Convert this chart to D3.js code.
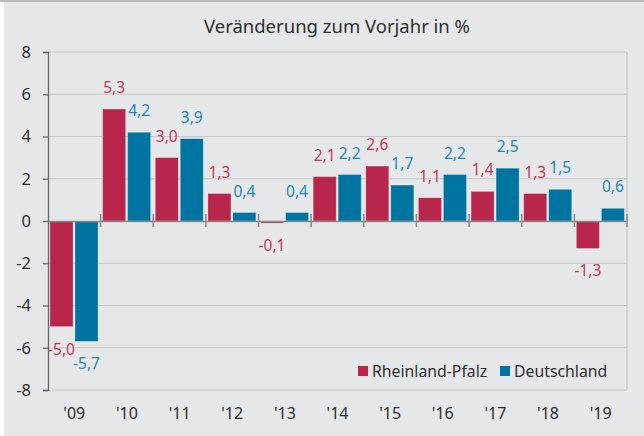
<!DOCTYPE html>
<html>
<head>
<meta charset="utf-8">
<script src="https://cdn.jsdelivr.net/npm/d3@7"></script>
<style>
  body { margin: 0; background: #fff; }
  svg { display: block; font-family: "Noto Sans", sans-serif; }
</style>
</head>
<body>
<svg id="chart" width="644" height="436"></svg>
<script>
// data
const years = ["'09", "'10", "'11", "'12", "'13", "'14", "'15", "'16", "'17", "'18", "'19"];
const seriesNames = ["Rheinland-Pfalz", "Deutschland"];
const rheinlandPfalz = [-5.0, 5.3, 3.0, 1.3, -0.1, 2.1, 2.6, 1.1, 1.4, 1.3, -1.3];
const deutschland = [-5.7, 4.2, 3.9, 0.4, 0.4, 2.2, 1.7, 2.2, 2.5, 1.5, 0.6];
const yTicks = [-8, -6, -4, -2, 0, 2, 4, 6, 8];

const barColors = ["#b8264b", "#0074a0"];
const labelColors = ["#c4375a", "#1f87b3"];

const svg = d3.select("#chart");
const plotLeft = 48, plotRight = 627, plotTop = 52, plotBottom = 390;

// background panel
svg.append("rect").attr("x", 4).attr("y", 0).attr("width", 640).attr("height", 436).attr("fill", "#e6e7e9");
svg.append("rect").attr("x", 0).attr("y", 0).attr("width", 644).attr("height", 2).attr("fill", "#b9b9bb");

const x = d3.scaleBand().domain(years).range([plotLeft, plotRight]).padding(0);
const x1 = d3.scaleBand().domain([0, 1]).range([2, 50]).paddingInner(0.08);
const y = d3.scaleLinear().domain([-8, 8]).range([plotBottom, plotTop]);

// title
svg.append("text")
  .attr("x", 337).attr("y", 33)
  .attr("text-anchor", "middle")
  .attr("font-size", 18.5)
  .attr("fill", "#2e2e2e")
  .text("Veränderung zum Vorjahr in %");

// grid lines
svg.append("g").selectAll("line")
  .data(yTicks.filter(d => d !== 0))
  .enter().append("line")
  .attr("x1", plotLeft).attr("x2", plotRight)
  .attr("y1", d => y(d)).attr("y2", d => y(d))
  .attr("stroke", "#c6c7c9").attr("stroke-width", 1.2);

// right border
svg.append("line")
  .attr("x1", plotRight).attr("x2", plotRight).attr("y1", plotTop).attr("y2", plotBottom)
  .attr("stroke", "#c6c7c9").attr("stroke-width", 1.2);

// y axis
const yAxis = svg.append("g")
  .attr("transform", `translate(${plotLeft},0)`)
  .call(d3.axisLeft(y).tickValues(yTicks).tickSize(5).tickPadding(12).tickFormat(d => d));
yAxis.select(".domain").attr("stroke", "#666").attr("stroke-width", 1.3);
yAxis.selectAll(".tick line").attr("stroke", "#666").attr("stroke-width", 1.3);
yAxis.selectAll("text").attr("font-size", 16.5).attr("fill", "#2e2e2e").attr("font-family", "Noto Sans");

// bars
const rows = years.map((yr, i) => ({ year: yr, values: [rheinlandPfalz[i], deutschland[i]] }));

const groups = svg.append("g").selectAll("g")
  .data(rows)
  .enter().append("g")
  .attr("transform", d => `translate(${x(d.year)},0)`);

groups.selectAll("rect")
  .data(d => d.values.map((v, k) => ({ k: k, v: v })))
  .enter().append("rect")
  .attr("x", d => x1(d.k))
  .attr("width", x1.bandwidth())
  .attr("y", d => y(Math.max(0, d.v)))
  .attr("height", d => Math.abs(y(d.v) - y(0)))
  .attr("fill", d => barColors[d.k])
  .attr("stroke", "#fff").attr("stroke-opacity", 0.3).attr("stroke-width", 0.8);

groups.selectAll("text")
  .data(d => d.values.map((v, k) => ({ k: k, v: v })))
  .enter().append("text")
  .attr("x", d => x1(d.k) + x1.bandwidth() / 2)
  .attr("y", d => d.v >= 0 ? y(d.v) - 16 : y(d.v) + 28)
  .attr("text-anchor", "middle")
  .attr("font-size", 15.5)
  .attr("fill", d => labelColors[d.k])
  .text(d => d.v.toFixed(1).replace(".", ","));

// zero axis with category ticks
const zeroAxis = svg.append("g")
  .attr("transform", `translate(0,${y(0)})`)
  .call(d3.axisBottom(x).tickValues([]).tickSizeOuter(0));
zeroAxis.select(".domain").attr("stroke", "#888").attr("stroke-width", 1.5);
zeroAxis.selectAll("line.sep")
  .data(years.map(d => x(d)).concat([plotRight]).slice(1))
  .enter().append("line")
  .attr("class", "sep")
  .attr("x1", d => d).attr("x2", d => d)
  .attr("y1", -7).attr("y2", 6)
  .attr("stroke", "#888").attr("stroke-width", 1.5);

// category labels
svg.append("g").selectAll("text")
  .data(years)
  .enter().append("text")
  .attr("x", d => x(d) + x.bandwidth() / 2)
  .attr("y", 419)
  .attr("text-anchor", "middle")
  .attr("font-size", 16)
  .attr("fill", "#2e2e2e")
  .text(d => d);

// legend
const legendX = [358, 500];
const legend = svg.append("g").selectAll("g")
  .data(seriesNames)
  .enter().append("g")
  .attr("transform", (d, i) => `translate(${legendX[i]},366)`);
legend.append("rect").attr("width", 10).attr("height", 10).attr("fill", (d, i) => barColors[i]);
legend.append("text")
  .attr("x", 14).attr("y", 11)
  .attr("font-size", 15.8)
  .attr("fill", "#2e2e2e")
  .text(d => d);
</script>
</body>
</html>
